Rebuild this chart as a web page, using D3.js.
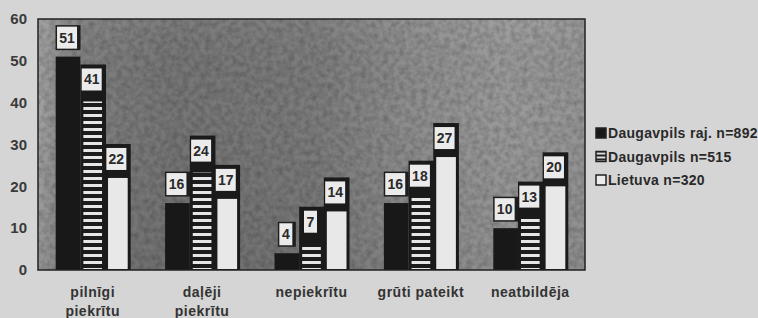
<!DOCTYPE html>
<html><head><meta charset="utf-8">
<script src="https://cdn.jsdelivr.net/npm/d3@7"></script>
<style>
html,body{margin:0;padding:0;background:#d5d5d5;}
svg{display:block;}
text{font-family:"Liberation Sans",Arial,sans-serif;}
</style></head>
<body>
<svg id="c" width="758" height="318"></svg>
<script>
const categories = [["pilnīgi","piekrītu"],["daļēji","piekrītu"],["nepiekrītu"],["grūti pateikt"],["neatbildēja"]];
const seriesNames = ["Daugavpils raj. n=892","Daugavpils n=515","Lietuva n=320"];
const rajValues = [51,16,4,16,10];
const daugValues = [41,24,7,18,13];
const lietValues = [22,17,14,27,20];
const yTicks = [0,10,20,30,40,50,60];

const svg = d3.select("#c");
const M = {l:38, t:19, r:585, b:270};
const defs = svg.append("defs");

const fn = defs.append("filter").attr("id","noise").attr("x",0).attr("y",0).attr("width","100%").attr("height","100%");
fn.append("feTurbulence").attr("type","fractalNoise").attr("baseFrequency","0.18").attr("numOctaves",2).attr("seed",3);
fn.append("feColorMatrix").attr("type","matrix").attr("values","0 0 0 0 0  0 0 0 0 0  0 0 0 0 0  0 0 0 -1.6 1.1");

const bg = defs.append("linearGradient").attr("id","bgGrad").attr("x1","0").attr("x2","1").attr("y1","0").attr("y2","0");
[["0%","#a2a2a2"],["3%","#929292"],["8%","#808080"],["25%","#767676"],["50%","#7c7c7c"],["68%","#8e8e8e"],["85%","#9a9a9a"],["100%","#969696"]]
  .forEach(s=>bg.append("stop").attr("offset",s[0]).attr("stop-color",s[1]));
const vg = defs.append("linearGradient").attr("id","vGrad").attr("x1","0").attr("x2","0").attr("y1","0").attr("y2","1");
vg.append("stop").attr("offset","0%").attr("stop-color","#ffffff").attr("stop-opacity",0.05);
vg.append("stop").attr("offset","35%").attr("stop-color","#000000").attr("stop-opacity",0.0);
vg.append("stop").attr("offset","100%").attr("stop-color","#000000").attr("stop-opacity",0.06);

const pat = defs.append("pattern").attr("id","stripes").attr("patternUnits","userSpaceOnUse").attr("width",8).attr("height",7);
pat.append("rect").attr("width",8).attr("height",7).attr("fill","#1c1c1c");
pat.append("rect").attr("y",2).attr("width",8).attr("height",3).attr("fill","#e6e6e6");

const x0 = d3.scaleBand().domain(d3.range(categories.length)).range([M.l, M.r]).paddingInner(0).paddingOuter(0);
const x1 = d3.scaleBand().domain([0,1,2]).range([-37, 37]).padding(0);
const y = d3.scaleLinear().domain([0,60]).range([M.b, M.t]);

svg.append("rect").attr("x",M.l).attr("y",M.t).attr("width",M.r-M.l).attr("height",M.b-M.t).attr("fill","url(#bgGrad)");
svg.append("rect").attr("x",M.l).attr("y",M.t).attr("width",M.r-M.l).attr("height",M.b-M.t).attr("fill","url(#vGrad)");
svg.append("rect").attr("x",M.l).attr("y",M.t).attr("width",M.r-M.l).attr("height",M.b-M.t).attr("fill","#000").attr("filter","url(#noise)").attr("opacity",0.22);

const all = [rajValues, daugValues, lietValues];
const bw = x1.bandwidth();
const labelH = 22, gap = 8;

categories.forEach((c,i)=>{
  const cx = x0(i) + x0.bandwidth()/2;
  all.forEach((vals,s)=>{
    const v = vals[i];
    const bx = cx + x1(s);
    const top = y(v);
    const g = svg.append("g");
    const lw = String(v).length === 1 ? 13 : 20;
    const lx = bx + bw/2 - 1 - lw/2;
    const ly = top - gap - labelH;
    if (s === 0) {
      g.append("rect").attr("x",bx).attr("y",top).attr("width",bw).attr("height",y(0)-top).attr("fill","#181818");
      g.append("rect").attr("x",lx-1.5).attr("y",ly-1.5).attr("width",lw+5).attr("height",labelH+3).attr("fill","#1e1e1e");
    } else {
      g.append("rect").attr("x",bx).attr("y",ly-4).attr("width",bw+1).attr("height",y(0)-ly+4).attr("fill","#1a1a1a");
      if (s === 1) {
        g.append("rect").attr("x",bx+3).attr("y",top+3).attr("width",bw-6).attr("height",y(0)-top-4).attr("fill","url(#stripes)");
      } else {
        g.append("rect").attr("x",bx+3).attr("y",top).attr("width",bw-5).attr("height",y(0)-top-1).attr("fill","#e8e8e8");
      }
    }
    g.append("rect").attr("x",lx).attr("y",ly).attr("width",lw).attr("height",labelH).attr("fill","#ebebeb");
    g.append("text").attr("x",lx+lw/2).attr("y",ly+labelH/2+5).attr("text-anchor","middle")
      .attr("font-size","14px").attr("font-weight","bold").attr("fill","#2a2a2a").text(v);
  });
});

svg.append("rect").attr("x",M.l).attr("y",M.t).attr("width",M.r-M.l).attr("height",M.b-M.t).attr("fill","none").attr("stroke","#222").attr("stroke-width",1.5);

const ya = svg.append("g").attr("transform",`translate(${M.l},0)`).call(d3.axisLeft(y).tickValues(yTicks).tickSize(0).tickPadding(11));
ya.select(".domain").remove();
ya.selectAll("text").attr("font-size","15px").attr("font-weight","bold").attr("fill","#3a3a3a").attr("font-family","Liberation Sans, Arial, sans-serif");

const xa = svg.append("g");
categories.forEach((c,i)=>{
  const cx = x0(i) + x0.bandwidth()/2;
  const t = xa.append("text").attr("x",cx).attr("y",297).attr("text-anchor","middle")
    .attr("font-size","14px").attr("font-weight","bold").attr("fill","#333").attr("letter-spacing","0.5px");
  c.forEach((ln,k)=>t.append("tspan").attr("x",cx).attr("dy",k===0?0:19).text(ln));
});

const patL = defs.append("pattern").attr("id","stripesL").attr("patternUnits","userSpaceOnUse").attr("width",4).attr("height",4);
patL.append("rect").attr("width",4).attr("height",4).attr("fill","#222");
patL.append("rect").attr("y",1).attr("width",4).attr("height",2).attr("fill","#ddd");
const fills = ["#181818","url(#stripesL)","#ececec"];
const leg = svg.append("g").attr("transform","translate(596,128)");
seriesNames.forEach((n,i)=>{
  const r = leg.append("g").attr("transform",`translate(0,${i*23.5})`);
  r.append("rect").attr("x",0).attr("y",0).attr("width",10).attr("height",10).attr("fill",fills[i]).attr("stroke","#222").attr("stroke-width",1.5);
  r.append("text").attr("x",12).attr("y",10).attr("font-size","14px").attr("font-weight","bold").attr("fill","#2a2a2a").attr("letter-spacing","0.3px").text(n);
});
</script>
</body></html>
